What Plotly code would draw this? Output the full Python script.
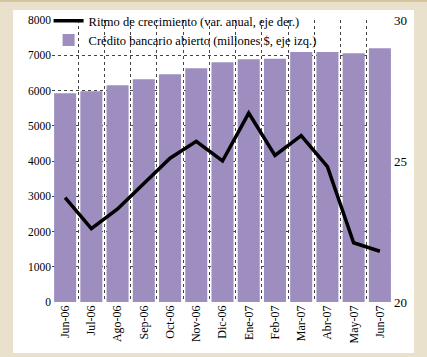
import plotly.graph_objects as go

# Monthly data, June 2006 - June 2007
meses = ["Jun-06", "Jul-06", "Ago-06", "Sep-06", "Oct-06", "Nov-06", "Dic-06",
         "Ene-07", "Feb-07", "Mar-07", "Abr-07", "May-07", "Jun-07"]
credito = [5920, 5980, 6150, 6320, 6460, 6630, 6800, 6890, 6900, 7090, 7090, 7060, 7200]
ritmo = [23.7, 22.6, 23.3, 24.2, 25.1, 25.7, 25.0, 26.7, 25.2, 25.9, 24.8, 22.1, 21.8]

y_left_ticks = [0, 1000, 2000, 3000, 4000, 5000, 6000, 7000, 8000]
y_right_ticks = [20, 25, 30]

SERIF = "Liberation Serif, Times New Roman, serif"
BEIGE = "#e9e1cb"
GRID = "#444444"

fig = go.Figure()

fig.add_trace(go.Bar(
    x=meses, y=credito,
    name="Crédito bancario abierto (millones $, eje izq.)",
    marker=dict(color="#9d8ebf", line=dict(width=0)),
    yaxis="y",
))

fig.add_trace(go.Scatter(
    x=meses, y=ritmo,
    name="Ritmo de crecimiento (var. anual, eje der.)",
    mode="lines",
    line=dict(color="black", width=3.5),
    yaxis="y2",
))

# White card inside the beige frame
fig.add_shape(type="rect", xref="paper", yref="paper",
              x0=-0.1144, x1=1.0616, y0=-0.1809, y1=1.0355,
              fillcolor="white", line=dict(width=0), layer="below")
# Darker strip along the top edge of the frame
fig.add_shape(type="rect", xref="paper", yref="paper",
              x0=-0.2, x1=1.2, y0=1.0638, y1=1.08,
              fillcolor="#d4c59d", line=dict(width=0), layer="below")

fig.update_layout(
    width=427, height=357,
    margin=dict(l=52, r=34, t=20, b=55, autoexpand=False),
    paper_bgcolor=BEIGE,
    plot_bgcolor="white",
    bargap=0.16,
    showlegend=True,
    legend=dict(
        xref="paper", yref="container",
        x=-0.01, y=0.983, xanchor="left", yanchor="top",
        bgcolor="rgba(0,0,0,0)",
        font=dict(family=SERIF, size=12.5, color="black"),
        traceorder="reversed",
        tracegroupgap=0,
        itemwidth=30,
    ),
    font=dict(family=SERIF, size=12, color="black"),
    xaxis=dict(
        type="category",
        tickangle=-90,
        tickson="boundaries",
        ticks="",
        showgrid=True, gridcolor=GRID, griddash="dot", gridwidth=1,
        showline=False, zeroline=False,
        tickfont=dict(family=SERIF, size=12),
    ),
    yaxis=dict(
        range=[0, 8000],
        tickvals=y_left_ticks,
        ticktext=[str(v) for v in y_left_ticks],
        showgrid=True, gridcolor=GRID, griddash="dot", gridwidth=1,
        zeroline=False, showline=False, ticks="",
        tickfont=dict(family=SERIF, size=11.5),
    ),
    yaxis2=dict(
        range=[20, 30],
        overlaying="y", side="right",
        tickvals=y_right_ticks,
        showgrid=False, zeroline=False, showline=False, ticks="",
        tickfont=dict(family=SERIF, size=13),
    ),
)

fig.write_html("out.html")
